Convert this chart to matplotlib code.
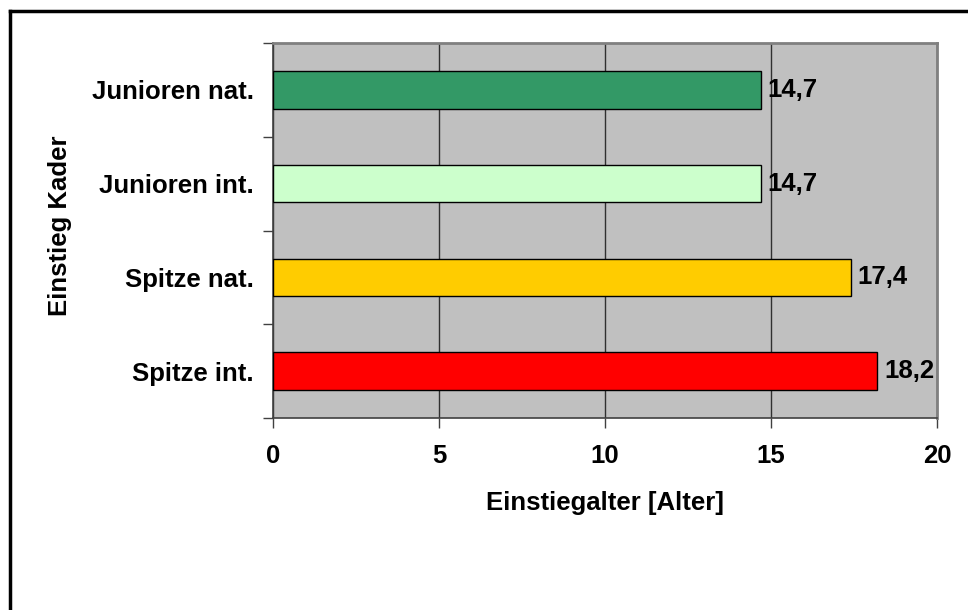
import matplotlib
matplotlib.use("Agg")
import matplotlib.pyplot as plt
from matplotlib.lines import Line2D
import numpy as np

plt.rcParams['font.family'] = ['Liberation Sans', 'DejaVu Sans']
plt.rcParams['font.weight'] = 'bold'

kader = ['Junioren nat.', 'Junioren int.', 'Spitze nat.', 'Spitze int.']
alter = [14.7, 14.7, 17.4, 18.2]
farben = ['#339966', '#CCFFCC', '#FFCC00', '#FF0000']
xticks = [0, 5, 10, 15, 20]

fig = plt.figure(figsize=(9.68, 6.10), dpi=100)
ax = fig.add_axes([273 / 968, 1 - 418 / 610, (937 - 273) / 968, (418 - 43) / 610])
ax.set_facecolor('#C0C0C0')

y = np.arange(len(kader))
ax.barh(y, alter, height=0.4, color=farben, edgecolor='black', linewidth=1, zorder=3)
for yi, v in zip(y, alter):
    ax.text(v + 0.2, yi, f'{v:.1f}'.replace('.', ','), va='center', ha='left',
            fontsize=18.5, fontweight='bold', zorder=4)

ax.set_xlim(0, 20)
ax.set_ylim(len(kader) - 0.5, -0.5)
ax.set_xticks(xticks)
ax.set_xticklabels([str(t) for t in xticks], fontsize=18.5, fontweight='bold')
ax.set_yticks(y)
ax.set_yticklabels(kader, fontsize=18.5, fontweight='bold')
ax.set_yticks(np.arange(-0.5, len(kader)), minor=True)
ax.tick_params(axis='y', which='major', length=0, pad=14)
ax.tick_params(axis='y', which='minor', length=7, width=1, color='#404040', direction='out')
ax.tick_params(axis='x', which='major', length=7, width=1, color='#404040', direction='out', pad=12)

ax.grid(axis='x', color='#303030', linewidth=1, zorder=1)
ax.set_axisbelow(True)

for s in ['top', 'right']:
    ax.spines[s].set_color('#808080')
    ax.spines[s].set_linewidth(2)
for s in ['left', 'bottom']:
    ax.spines[s].set_color('#404040')
    ax.spines[s].set_linewidth(1.2)

ax.set_xlabel('Einstiegalter [Alter]', fontsize=18.5, fontweight='bold', labelpad=16)
ax.set_ylabel('Einstieg Kader', fontsize=18.5, fontweight='bold')
ax.yaxis.set_label_coords(-0.302, 0.513)

# outer frame, open to the right and bottom
x0 = 9.5 / 968
y0 = 1 - 11 / 610
fig.add_artist(Line2D([x0, 1.0], [y0, y0], color='black', linewidth=2.5, transform=fig.transFigure))
fig.add_artist(Line2D([x0, x0], [0.0, y0], color='black', linewidth=2.5, transform=fig.transFigure))

fig.savefig('out.png', dpi=100)
